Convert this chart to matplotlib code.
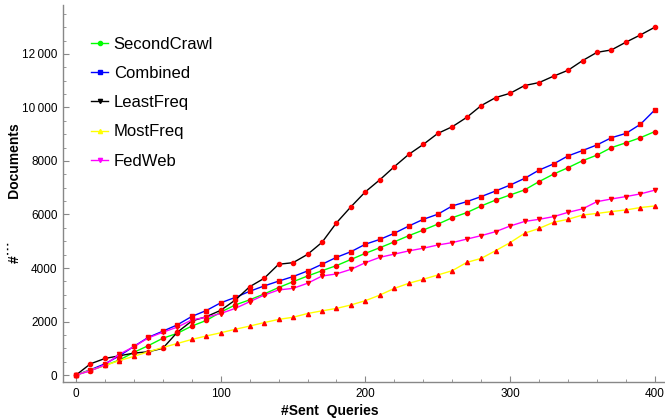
import matplotlib
matplotlib.use("Agg")
import matplotlib.pyplot as plt
from matplotlib.lines import Line2D
from matplotlib.ticker import MultipleLocator, FuncFormatter

plt.rcParams['font.family'] = ['Liberation Sans', 'DejaVu Sans']

## Data (one marker every 10 queries)
queries = list(range(0, 401, 10))

second_crawl = [0, 170, 360, 560, 850, 1100, 1375, 1560, 1830, 2040,
                2350, 2620, 2810, 3030, 3270, 3490, 3700, 3900, 4090, 4320,
                4550, 4760, 4980, 5210, 5420, 5640, 5880, 6070, 6320, 6540,
                6730, 6920, 7230, 7510, 7750, 8010, 8220, 8500, 8680, 8870,
                9100]
combined = [0, 200, 420, 720, 1070, 1410, 1640, 1875, 2190, 2410,
            2700, 2900, 3130, 3330, 3510, 3680, 3890, 4140, 4400, 4610,
            4890, 5070, 5300, 5570, 5820, 6010, 6320, 6480, 6670, 6880,
            7100, 7350, 7660, 7890, 8190, 8390, 8600, 8870, 9030, 9370,
            9910]
least_freq = [0, 420, 620, 720, 820, 870, 1000, 1600, 2020, 2180,
              2420, 2800, 3300, 3615, 4140, 4200, 4510, 4960, 5690, 6290,
              6850, 7300, 7790, 8250, 8620, 9030, 9280, 9630, 10070, 10370,
              10530, 10820, 10930, 11170, 11390, 11750, 12060, 12150, 12440, 12710,
              13000]
most_freq = [0, 180, 360, 540, 700, 870, 1030, 1180, 1330, 1460,
             1580, 1710, 1830, 1960, 2080, 2160, 2300, 2400, 2490, 2620,
             2780, 2990, 3240, 3430, 3580, 3740, 3900, 4210, 4360, 4650,
             4950, 5300, 5480, 5710, 5820, 5980, 6040, 6110, 6170, 6260,
             6320]
fed_web = [0, 160, 380, 780, 1060, 1390, 1600, 1790, 2060, 2160,
           2300, 2490, 2740, 2990, 3180, 3240, 3430, 3700, 3780, 3950,
           4200, 4400, 4520, 4640, 4740, 4860, 4950, 5080, 5210, 5360,
           5570, 5740, 5820, 5920, 6080, 6210, 6480, 6580, 6670, 6770,
           6910]

series_names = ["SecondCrawl", "Combined", "LeastFreq", "MostFreq", "FedWeb"]
series_values = [second_crawl, combined, least_freq, most_freq, fed_web]
colors = ["#00ff00", "#0000ff", "#000000", "#ffff00", "#ff00ff"]
markers = ["o", "s", "o", "^", "v"]
legend_markers = ["o", "s", "v", "^", "v"]

## Plot
fig = plt.figure(figsize=(6.65, 4.18), dpi=100)
ax = fig.add_axes([0.0947, 0.0861, 0.9053, 0.902])

draw_order = [3, 4, 0, 1, 2]
for i in draw_order:
    ax.plot(queries, series_values[i], color=colors[i], lw=1.0,
            marker=markers[i], ms=3.0, mfc='red', mec='red', zorder=2 + i)

handles = [Line2D([0], [0], color=c, lw=1.0, marker=m, ms=3, mfc=c, mec=c)
           for c, m in zip(colors, legend_markers)]
ax.legend(handles, series_names, loc='upper left', bbox_to_anchor=(0.022, 0.955),
          frameon=False, fontsize=12, handlelength=1.0, handletextpad=0.35,
          labelspacing=0.85)

ax.set_xlim(-9, 407)
ax.set_ylim(-260, 13830)
ax.xaxis.set_major_locator(MultipleLocator(100))
ax.xaxis.set_minor_locator(MultipleLocator(20))
ax.yaxis.set_major_locator(MultipleLocator(2000))
ax.yaxis.set_minor_locator(MultipleLocator(500))

def fmt_y(v, pos):
    v = int(round(v))
    if v >= 10000:
        return "%d\u2009%03d" % (v // 1000, v % 1000)
    return "%d" % v
ax.yaxis.set_major_formatter(FuncFormatter(fmt_y))

for s in ['top', 'right']:
    ax.spines[s].set_visible(False)
for s in ['left', 'bottom']:
    ax.spines[s].set_color('#888888')
    ax.spines[s].set_linewidth(1.0)

ax.tick_params(which='both', direction='in', colors='#888888', labelcolor='black',
               labelsize=8.5, top=False, right=False)
ax.tick_params(which='major', length=4, pad=4)
ax.tick_params(which='minor', length=2)

ax.set_xlabel("#Sent  Queries", fontsize=10, fontweight='bold')
ax.xaxis.set_label_coords(0.443, -0.058)
ax.set_ylabel("#\u02d9\u02d9\u02d9           Documents", fontsize=10, fontweight='bold')
ax.yaxis.set_label_coords(-0.068, 0.5)

plt.savefig("out.png", dpi=100)
